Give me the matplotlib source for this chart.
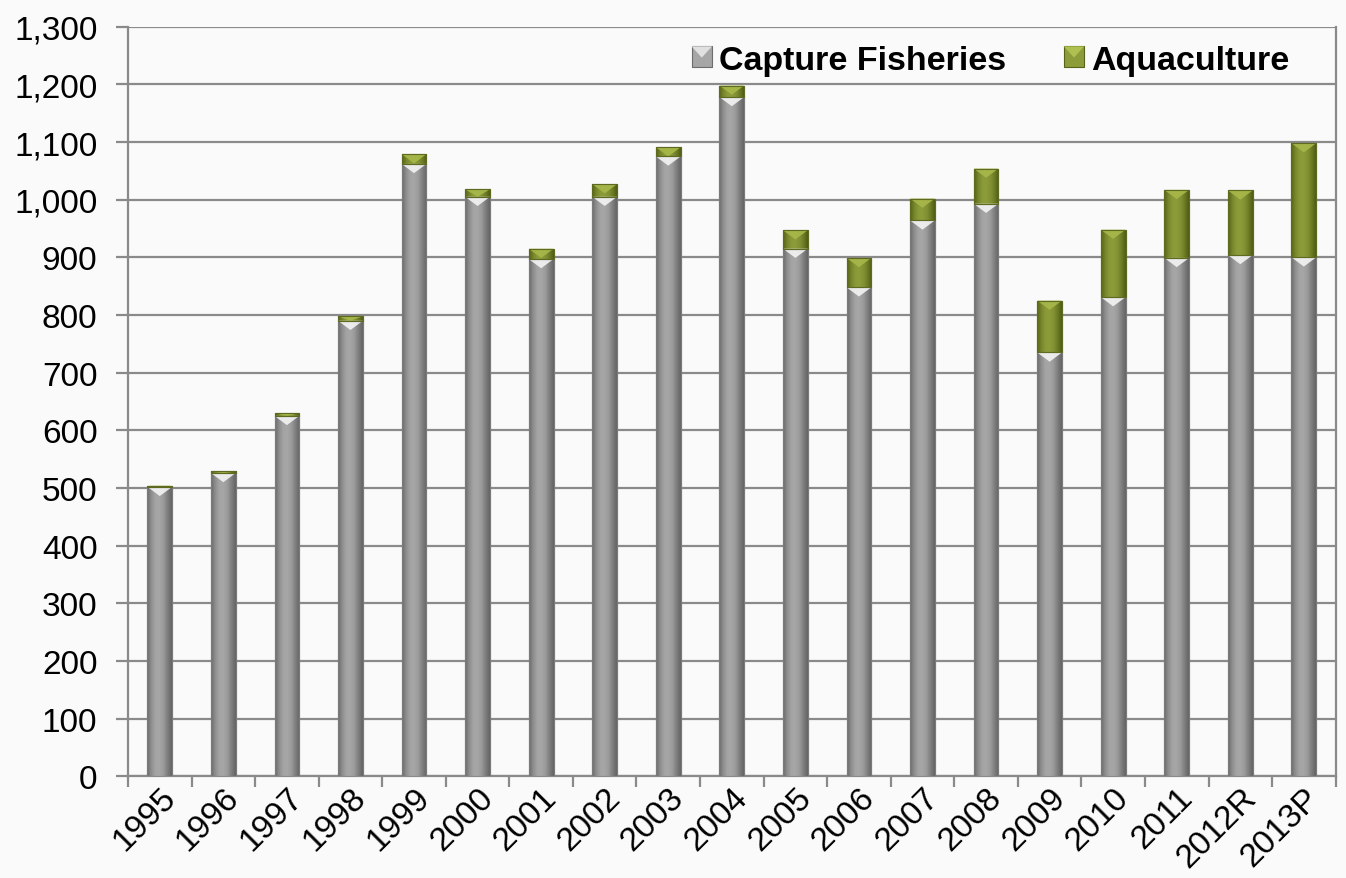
import numpy as np
import matplotlib
matplotlib.use("Agg")
import matplotlib.pyplot as plt
from matplotlib.colors import LinearSegmentedColormap
from matplotlib.patches import Polygon, Rectangle
from matplotlib.ticker import FuncFormatter, MultipleLocator
from matplotlib.legend_handler import HandlerBase

plt.rcParams['font.family'] = ['Liberation Sans', 'DejaVu Sans']

years = ["1995", "1996", "1997", "1998", "1999", "2000", "2001", "2002", "2003",
         "2004", "2005", "2006", "2007", "2008", "2009", "2010", "2011", "2012R", "2013P"]
capture = [502, 526, 625, 790, 1062, 1005, 897, 1005, 1075, 1178, 915, 848, 964, 993,
           735, 831, 899, 904, 900]
aquaculture = [2, 3, 5, 8, 17, 13, 18, 22, 16, 20, 32, 51, 38, 61, 90, 117, 118, 112, 198]

BG = '#fafafa'
fig = plt.figure(figsize=(13.46, 8.79), dpi=100, facecolor=BG)
ax = fig.add_axes([0.0951, 0.1157, 0.8972, 0.8528], facecolor=BG)

x = np.arange(len(years))
width = 0.39

gray_cmap = LinearSegmentedColormap.from_list(
    'g', ['#6c6c6c', '#8e8e8e', '#a4a4a4', '#a6a6a6', '#9a9a9a', '#7e7e7e', '#646464'])
green_cmap = LinearSegmentedColormap.from_list(
    'gr', ['#566318', '#76862a', '#8a9a38', '#8c9c3a', '#829234', '#6c7c24', '#505c16'])

bars_cap = ax.bar(x, capture, width, color='#9a9a9a', edgecolor='#7a7a7a', linewidth=0.8,
                  zorder=3, label='Capture Fisheries')
bars_aq = ax.bar(x, aquaculture, width, bottom=capture, color='#8a9a38', edgecolor='#5e6a20',
                 linewidth=0.8, zorder=3, label='Aquaculture')

grad = np.linspace(0, 1, 64).reshape(1, -1)

def fill_gradient(bars, cmap, tri_color, tri_h):
    for b in bars:
        x0, y0 = b.get_x(), b.get_y()
        w, h = b.get_width(), b.get_height()
        if h <= 0:
            continue
        im = ax.imshow(grad, cmap=cmap, extent=[x0, x0 + w, y0, y0 + h],
                       aspect='auto', zorder=3.5, interpolation='bicubic')
        im.set_clip_path(b)
        th = min(tri_h, h)
        tri = Polygon([[x0, y0 + h], [x0 + w, y0 + h], [x0 + w / 2, y0 + h - th]],
                      closed=True, facecolor=tri_color, edgecolor='none', zorder=3.7,
                      alpha=0.9)
        ax.add_patch(tri)
        outline = Rectangle((x0, y0), w, h, fill=False, edgecolor=b.get_edgecolor(),
                            linewidth=0.8, zorder=3.8)
        ax.add_patch(outline)

fill_gradient(bars_cap, gray_cmap, '#f4f4f4', 16)
fill_gradient(bars_aq, green_cmap, '#a8b84a', 16)

ax.set_xlim(-0.5, len(years) - 0.5)
ax.set_ylim(0, 1300)

ax.yaxis.set_major_locator(MultipleLocator(100))
ax.yaxis.set_major_formatter(FuncFormatter(lambda v, p: f"{int(v):,}"))
ax.grid(axis='y', color='#8a8a8a', linewidth=1.6, zorder=0)
ax.set_axisbelow(True)

ax.set_xticks(x)
ax.set_xticklabels(years, rotation=45, ha='right', va='top', rotation_mode='anchor')
ax.set_xticks(np.arange(len(years) + 1) - 0.5, minor=True)
ax.tick_params(axis='x', which='major', length=0, labelsize=24, pad=4)
ax.tick_params(axis='x', which='minor', length=8, width=1.6, color='#8a8a8a')
ax.tick_params(axis='y', length=9, width=1.6, color='#8a8a8a', labelsize=24, pad=13)

for side in ['left', 'bottom', 'right', 'top']:
    ax.spines[side].set_color('#8a8a8a')
    ax.spines[side].set_linewidth(1.6)
ax.spines['top'].set_visible(False)


class SquareHandler(HandlerBase):
    def __init__(self, cmap, tri):
        super().__init__()
        self.cmap = cmap
        self.tri = tri

    def create_artists(self, legend, orig_handle, xdescent, ydescent, width, height,
                       fontsize, trans):
        s = height * 0.95
        x0 = width - s
        y0 = -ydescent + (height - s) / 2
        sq = Rectangle((x0, y0), s, s, facecolor=self.cmap(0.5), edgecolor=self.cmap(0.0),
                       linewidth=0.8, transform=trans)
        tri = Polygon([[x0, y0 + s], [x0 + s, y0 + s], [x0 + s / 2, y0 + s * 0.45]],
                      closed=True, facecolor=self.tri, edgecolor='none', transform=trans)
        return [sq, tri]


leg = ax.legend(handles=[bars_cap, bars_aq], labels=['Capture Fisheries', 'Aquaculture'],
                handler_map={bars_cap: SquareHandler(gray_cmap, '#e0e0e0'),
                             bars_aq: SquareHandler(green_cmap, '#b0c050')},
                loc='upper right', bbox_to_anchor=(0.987, 1.017), ncol=2, frameon=False,
                prop={'weight': 'bold', 'size': 24.5},
                handlelength=0.6, handleheight=0.6, handletextpad=0.2, columnspacing=1.7)

fig.savefig('out.png', dpi=100, facecolor=BG)
